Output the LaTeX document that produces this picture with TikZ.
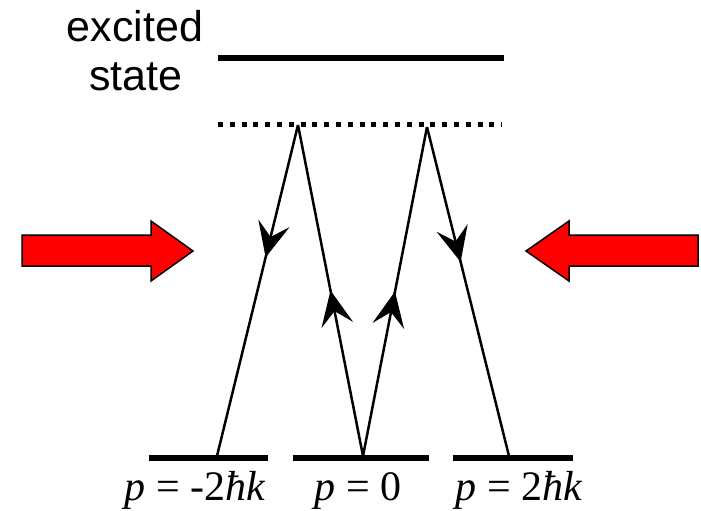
\documentclass[tikz,border=0pt]{standalone}
\usepackage{fontspec}
\setmainfont{Liberation Serif}
\newfontfamily\labsans{Liberation Sans}
\usetikzlibrary{arrows.meta,decorations.markings}
\tikzset{
  level/.style={line width=5.5pt},
  beam/.style={line width=2.5pt},
  tipd/.style={postaction={decorate},decoration={markings,
     mark=at position #1 with {\arrow{Stealth[length=35pt,width=32pt,inset=14pt]}}}},
  laser/.style={fill=red,draw=black,line width=1.5pt,line join=miter},
  plab/.style={anchor=base,inner sep=0pt,font=\fontsize{42}{48}\selectfont},
  slab/.style={anchor=base,inner sep=0pt,font=\labsans\fontsize{43}{48}\selectfont}
}
\begin{document}
\begin{tikzpicture}[x=1pt,y=-1pt]
\useasboundingbox (0,0) rectangle (701,511);
% excited state
\draw[level] (218,58) -- (504,58);
\node[slab] (ex) at (135,42) {excited};
\node[slab] (st) at (136,90) {state};
% virtual level
\draw[line width=5pt,dash pattern=on 5pt off 6.8pt] (218,124) -- (502,124);
% ground levels
\draw[level] (149,458) -- (268,458);
\draw[level] (293,458) -- (429,458);
\draw[level] (453,458) -- (573,458);
\node[plab] (l1) at (195,500) {\textit{p} = -2\textit{ħk}};
\node[plab] (l2) at (358,500) {\textit{p} = 0};
\node[plab] (l3) at (519,500) {\textit{p} = 2\textit{ħk}};
% coordinates
\coordinate (tA) at (298,125);
\coordinate (tB) at (427,127);
\coordinate (bL) at (217,456);
\coordinate (bM) at (363,456);
\coordinate (bR) at (509,456);
% transitions
\draw[beam,tipd=0.40] (tA) -- (bL);
\draw[beam,tipd=0.5] (bM) -- (tA);
\draw[beam,tipd=0.5] (bM) -- (tB);
\draw[beam,tipd=0.41] (tB) -- (bR);
% laser arrows
\draw[laser] (22,235) -- (151,235) -- (151,221) -- (193,251) -- (151,281) -- (151,266) -- (22,266) -- cycle;
\draw[laser] (698,235) -- (569,235) -- (569,221) -- (526,251) -- (569,281) -- (569,266) -- (698,266) -- cycle;
\end{tikzpicture}
\end{document}
